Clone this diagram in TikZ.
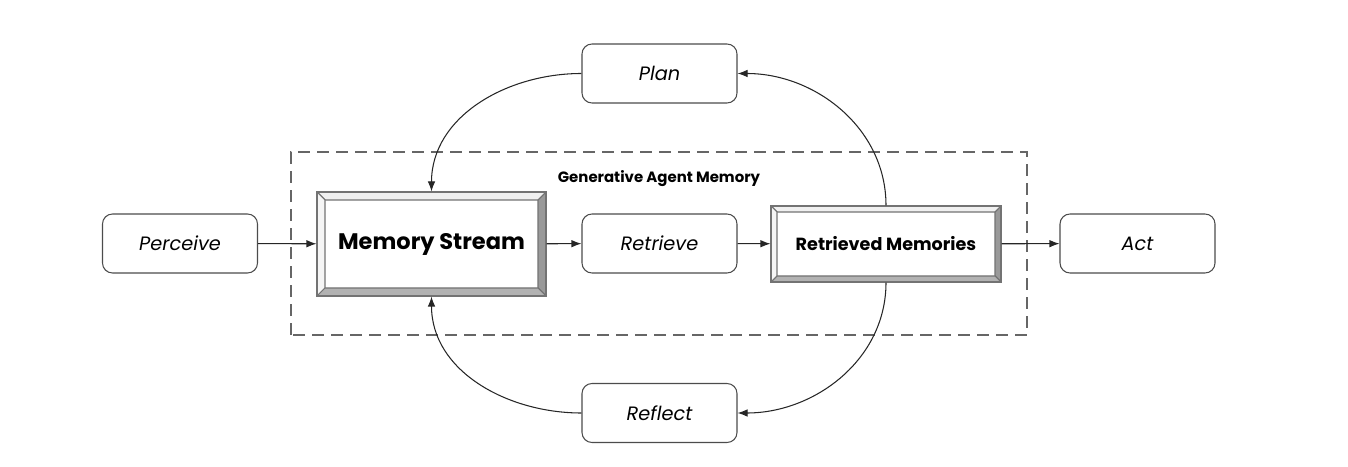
\documentclass[tikz,border=0pt]{standalone}
\usepackage{fontspec}
\setmainfont{Poppins}
\usetikzlibrary{calc,arrows.meta}

\tikzset{
  stage/.style={draw=black!70, line width=0.6pt, rounded corners=0.2cm, fill=white,
    minimum width=3.1cm, minimum height=1.18cm, font=\fontsize{11}{13}\selectfont\itshape},
  bevel/.style={draw=black!55, line width=0.6pt, fill=white, path picture={
    \coordinate (nw) at (path picture bounding box.north west);
    \coordinate (ne) at (path picture bounding box.north east);
    \coordinate (sw) at (path picture bounding box.south west);
    \coordinate (se) at (path picture bounding box.south east);
    \filldraw[draw=black!55, fill=black!6] (nw) -- (ne) -- ($(ne)+(-#1,-#1)$) -- ($(nw)+(#1,-#1)$) -- cycle;
    \filldraw[draw=black!55, fill=black!4] (nw) -- ($(nw)+(#1,-#1)$) -- ($(sw)+(#1,#1)$) -- (sw) -- cycle;
    \filldraw[draw=black!55, fill=black!40] (ne) -- (se) -- ($(se)+(-#1,#1)$) -- ($(ne)+(-#1,-#1)$) -- cycle;
    \filldraw[draw=black!55, fill=black!30] (sw) -- (se) -- ($(se)+(-#1,#1)$) -- ($(sw)+(#1,#1)$) -- cycle;
  }},
  link/.style={draw=black!85, line width=0.6pt, -{Latex[length=2mm,width=1.5mm]}}
}

\begin{document}
\begin{tikzpicture}

\useasboundingbox (0,0) rectangle (26.96,9.32);

% Memory frame
\draw[black!60, line width=1.1pt, dash pattern=on 0.24cm off 0.14cm] (5.82,2.62) rectangle (20.54,6.28);
\node (title) at (13.18,5.74) {\fontsize{8.5}{10}\selectfont\bfseries Generative Agent Memory};

% Boxes
\node[stage] (perceive) at (3.6,4.45) {Perceive};
\node[stage] (plan) at (13.19,7.85) {Plan};
\node[stage] (retrieve) at (13.19,4.45) {Retrieve};
\node[stage] (reflect) at (13.19,1.06) {Reflect};
\node[stage] (act) at (22.75,4.45) {Act};

\node[bevel=0.16cm, minimum width=4.58cm, minimum height=2.08cm] (stream) at (8.63,4.44)
  {\fontsize{12.8}{15}\selectfont\bfseries Memory Stream};
\node[bevel=0.12cm, minimum width=4.6cm, minimum height=1.52cm] (memories) at (17.72,4.44)
  {\fontsize{10}{12}\selectfont\bfseries Retrieved Memories};

% Straight flow
\draw[link] (perceive) -- (stream);
\draw[link] (stream) -- (retrieve);
\draw[link] (retrieve) -- (memories);
\draw[link] (memories) -- (act);

% Loops
\draw[link] (memories.north) to[out=90, in=0] (plan.east);
\draw[link] (plan.west) to[out=180, in=90] (stream.north);
\draw[link] (memories.south) to[out=-90, in=0] (reflect.east);
\draw[link] (reflect.west) to[out=180, in=-90] (stream.south);

\end{tikzpicture}
\end{document}
